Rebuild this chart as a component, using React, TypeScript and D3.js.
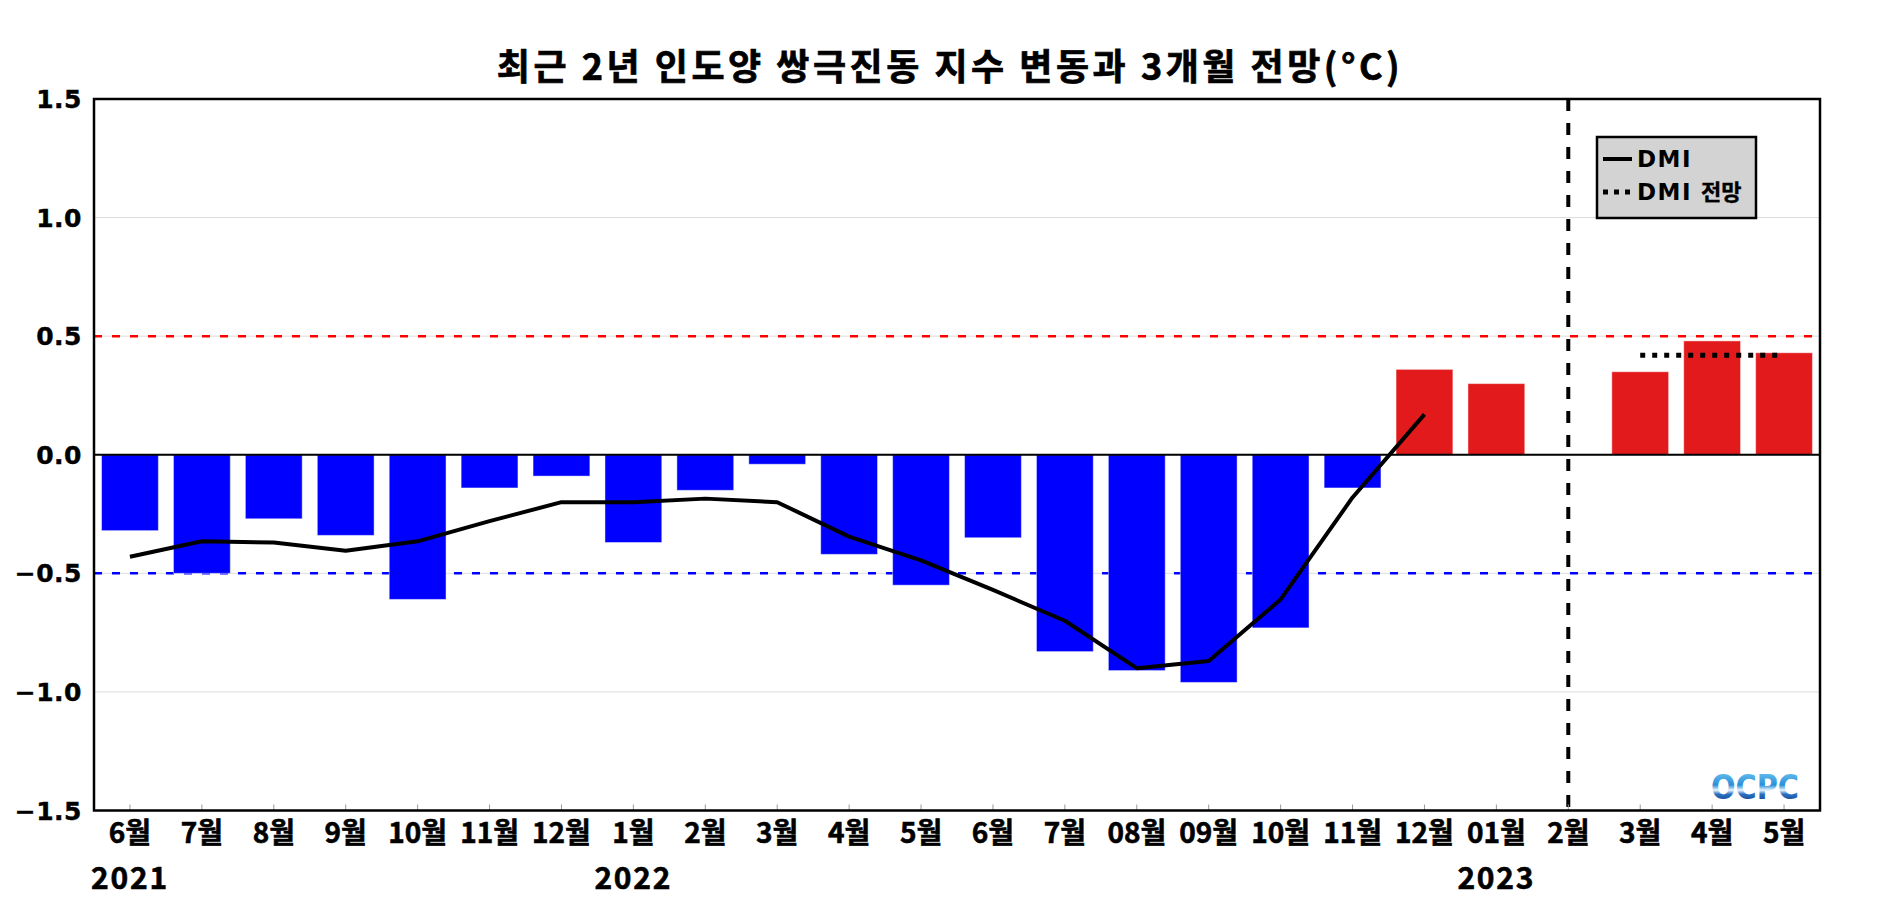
import React from "react";
import * as d3 from "d3";

const categories = ["6월","7월","8월","9월","10월","11월","12월","1월","2월","3월","4월","5월","6월","7월","08월","09월","10월","11월","12월","01월","2월","3월","4월","5월"];
const yearIndex = [0, 7, 19];
const yearNames = ["2021", "2022", "2023"];
const barValues: (number | null)[] = [-0.32,-0.50,-0.27,-0.34,-0.61,-0.14,-0.09,-0.37,-0.15,-0.04,-0.42,-0.55,-0.35,-0.83,-0.91,-0.96,-0.73,-0.14,0.36,0.30,null,0.35,0.48,0.43];
const dmiValues: (number | null)[] = [-0.43,-0.365,-0.37,-0.405,-0.365,-0.28,-0.20,-0.20,-0.185,-0.20,-0.345,-0.445,-0.57,-0.70,-0.90,-0.87,-0.61,-0.18,0.17,null,null,null,null,null];
const forecastValues: (number | null)[] = [null,null,null,null,null,null,null,null,null,null,null,null,null,null,null,null,null,null,null,null,null,0.42,0.42,0.42];
const yTicks = [-1.5,-1.0,-0.5,0,0.5,1.0,1.5];
const dividerIndex = 20;
const title = "최근 2년 인도양 쌍극진동 지수 변동과 3개월 전망(°C)";
const legendLabels = ["DMI", "DMI", "전망"];

const W = 1900, H = 900;
const left = 94, right = 1820, top = 99, bottom = 810.5;

export default function App() {
  const x = d3.scaleBand<number>().domain(d3.range(categories.length)).range([left, right]).paddingInner(0.21).paddingOuter(0.105);
  const y = d3.scaleLinear().domain([-1.5, 1.5]).range([bottom, top]);
  const cx = (i: number) => (x(i) as number) + x.bandwidth() / 2;
  const fmt = d3.format(".1f");

  const lineGen = d3.line<number | null>()
    .defined((d) => d != null)
    .x((_, i) => cx(i))
    .y((d) => y(d as number));

  const kr = "'Noto Sans CJK KR', sans-serif";
  const dv = "'DejaVu Sans', 'Noto Sans CJK KR', sans-serif";

  return (
    <svg width={W} height={H} style={{ position: "absolute", left: 0, top: 0, background: "#fff" }}>
      <defs>
        <linearGradient id="logoGrad" x1="0" y1="0" x2="0" y2="1">
          <stop offset="0%" stopColor="#7fd3f5" />
          <stop offset="45%" stopColor="#2a8fd8" />
          <stop offset="58%" stopColor="#e8f4fb" />
          <stop offset="68%" stopColor="#2a6fc0" />
          <stop offset="100%" stopColor="#0b2f7a" />
        </linearGradient>
      </defs>
      <rect x={0} y={0} width={W} height={H} fill="#fff" />
      {/* gridlines */}
      {yTicks.map((t) => (
        <line key={"g" + t} x1={left} x2={right} y1={y(t)} y2={y(t)} stroke="#dcdcdc" strokeWidth={1} />
      ))}
      {/* threshold lines */}
      <line x1={left} x2={right} y1={y(0.5)} y2={y(0.5)} stroke="#ff0000" strokeWidth={2.5} strokeDasharray="8,10" />
      <line x1={left} x2={right} y1={y(-0.5)} y2={y(-0.5)} stroke="#0000ff" strokeWidth={2.5} strokeDasharray="8,10" />
      {/* bars */}
      {barValues.map((v, i) =>
        v == null ? null : (
          <rect
            key={"b" + i}
            x={x(i)}
            y={y(Math.max(0, v))}
            width={x.bandwidth()}
            height={Math.abs(y(v) - y(0))}
            fill={v >= 0 ? "#e31a1c" : "#0000ff"}
            stroke="rgba(255,255,255,0.45)"
            strokeWidth={1}
          />
        )
      )}
      {/* zero line */}
      <line x1={left} x2={right} y1={y(0)} y2={y(0)} stroke="#000" strokeWidth={2} />
      {/* DMI line */}
      <path d={lineGen(dmiValues) || ""} fill="none" stroke="#000" strokeWidth={4} strokeLinejoin="round" />
      {/* forecast dotted */}
      <path d={lineGen(forecastValues) || ""} fill="none" stroke="#000" strokeWidth={5} strokeDasharray="5,7" />
      {/* divider */}
      <line x1={cx(dividerIndex)} x2={cx(dividerIndex)} y1={top} y2={bottom} stroke="#000" strokeWidth={4} strokeDasharray="12,12" />
      {/* x ticks */}
      {categories.map((_, i) => (
        <line key={"t" + i} x1={cx(i)} x2={cx(i)} y1={bottom} y2={bottom - 6} stroke="#999" strokeWidth={1} />
      ))}
      {/* frame */}
      <rect x={left} y={top} width={right - left} height={bottom - top} fill="none" stroke="#000" strokeWidth={2.5} />
      {/* y labels */}
      {yTicks.map((t) => (
        <text key={"yl" + t} x={82} y={y(t)} dy="0.36em" textAnchor="end" fontFamily={dv} fontWeight="bold" fontSize={25} letterSpacing={0.5} stroke="#000" strokeWidth={0.4} fill="#000">
          {fmt(t)}
        </text>
      ))}
      {/* x labels */}
      {categories.map((c, i) => (
        <text key={"xl" + i} x={cx(i)} y={843} textAnchor="middle" fontFamily={kr} fontWeight="bold" fontSize={28} stroke="#000" strokeWidth={0.6} fill="#000">
          {c}
        </text>
      ))}
      {yearIndex.map((idx, k) => (
        <text key={"yr" + k} x={cx(idx)} y={889} textAnchor="middle" fontFamily={kr} fontWeight="bold" fontSize={30} letterSpacing={1.8} stroke="#000" strokeWidth={0.6} fill="#000">
          {yearNames[k]}
        </text>
      ))}
      {/* title */}
      <text x={950} y={80} textAnchor="middle" fontFamily={kr} fontWeight="bold" fontSize={36} letterSpacing={3.5} stroke="#000" strokeWidth={0.7} fill="#000">
        {title}
      </text>
      {/* legend */}
      <rect x={1597} y={137} width={159} height={81} fill="#d3d3d3" stroke="#000" strokeWidth={2.5} />
      <line x1={1603} x2={1632} y1={159} y2={159} stroke="#000" strokeWidth={4} />
      <line x1={1603} x2={1632} y1={192} y2={192} stroke="#000" strokeWidth={5} strokeDasharray="5,6" />
      <text x={1637} y={167} fontFamily={dv} fontWeight="bold" fontSize={23} letterSpacing={1.5} fill="#000">{legendLabels[0]}</text>
      <text x={1637} y={200} fontFamily={dv} fontWeight="bold" fontSize={23} fill="#000">
        <tspan letterSpacing={1.5}>{legendLabels[1] + " "}</tspan>
        <tspan x={1701} fontFamily={kr} fontSize={22} stroke="#000" strokeWidth={0.4}>{legendLabels[2]}</tspan>
      </text>
      {/* logo */}
      <text x={1711} y={799} fontFamily="'DejaVu Sans', sans-serif" fontWeight="bold" fontSize={34} textLength={88} lengthAdjust="spacingAndGlyphs" fill="url(#logoGrad)">
        OCPC
      </text>
    </svg>
  );
}
